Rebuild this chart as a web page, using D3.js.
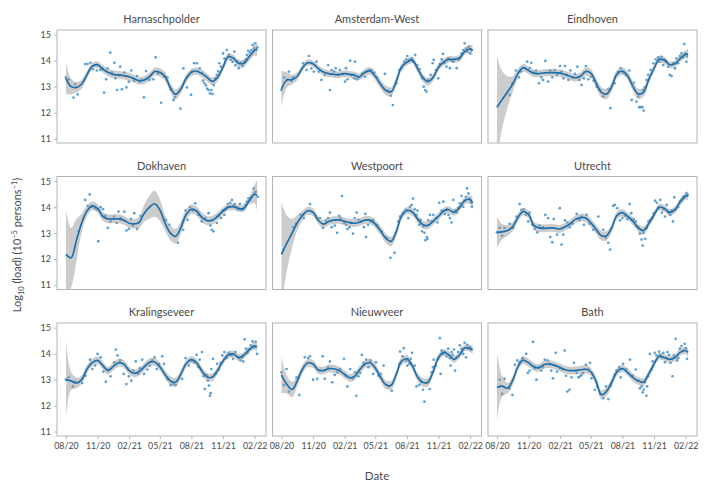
<!DOCTYPE html>
<html><head><meta charset="utf-8">
<script src="https://cdn.jsdelivr.net/npm/d3@7"></script>
<style>body{margin:0;background:#fff}svg{font-family:Lato,"Open Sans",sans-serif}</style>
</head><body>
<svg id="chart" width="725" height="493"></svg>
<script>
const sites = ["Harnaschpolder","Amsterdam-West","Eindhoven","Dokhaven","Westpoort","Utrecht","Kralingseveer","Nieuwveer","Bath"];
const knotDates = ["2020-08-01","2020-08-16","2020-09-01","2020-09-16","2020-10-01","2020-10-16","2020-11-01","2020-11-16","2020-12-01","2020-12-16","2021-01-01","2021-01-16","2021-02-01","2021-02-16","2021-03-01","2021-03-16","2021-04-01","2021-04-16","2021-05-01","2021-05-16","2021-06-01","2021-06-16","2021-07-01","2021-07-16","2021-08-01","2021-08-16","2021-09-01","2021-09-16","2021-10-01","2021-10-16","2021-11-01","2021-11-16","2021-12-01","2021-12-16","2022-01-01","2022-01-16","2022-02-01","2022-02-08"];
const xTickDates = ["2020-08-01","2020-11-01","2021-02-01","2021-05-01","2021-08-01","2021-11-01","2022-02-01"];
const yTicks = [11,12,13,14,15];

// smoothed fit (log10 load) and half-width of the confidence band
const smoothHarnaschpolder = [13.32,13.0,12.97,13.1,13.45,13.78,13.84,13.68,13.55,13.47,13.45,13.42,13.38,13.3,13.23,13.25,13.38,13.58,13.55,13.4,12.95,12.7,12.9,13.3,13.55,13.6,13.5,13.35,13.2,13.35,13.75,14.15,14.1,13.9,13.9,14.15,14.4,14.45];
const bandHarnaschpolder = [0.6,0.3,0.2,0.17,0.15,0.13,0.13,0.14,0.15,0.15,0.15,0.15,0.15,0.15,0.15,0.15,0.15,0.15,0.16,0.17,0.18,0.18,0.17,0.15,0.14,0.14,0.15,0.15,0.15,0.15,0.14,0.13,0.13,0.14,0.14,0.15,0.2,0.3];
const smoothAmsterdamWest = [12.9,13.25,13.27,13.4,13.72,13.92,13.88,13.7,13.56,13.5,13.47,13.46,13.5,13.47,13.44,13.38,13.55,13.6,13.4,13.1,12.85,12.8,13.2,13.75,13.94,14.03,13.7,13.35,13.19,13.35,13.75,13.95,14.05,14.05,14.1,14.35,14.45,14.4];
const bandAmsterdamWest = [0.7,0.3,0.18,0.15,0.13,0.12,0.12,0.13,0.13,0.13,0.13,0.13,0.13,0.13,0.13,0.13,0.14,0.15,0.16,0.17,0.18,0.17,0.16,0.14,0.13,0.13,0.14,0.15,0.15,0.14,0.13,0.12,0.12,0.12,0.12,0.13,0.15,0.2];
const smoothEindhoven = [12.2,12.5,12.8,13.1,13.5,13.73,13.62,13.52,13.5,13.53,13.54,13.54,13.52,13.46,13.4,13.34,13.4,13.58,13.52,13.15,12.78,12.72,13.0,13.48,13.6,13.42,13.0,12.72,12.78,13.25,13.7,14.05,14.02,13.85,13.88,14.08,14.25,14.25];
const bandEindhoven = [2.0,1.1,0.6,0.3,0.18,0.15,0.14,0.14,0.14,0.14,0.14,0.14,0.14,0.14,0.14,0.14,0.15,0.15,0.16,0.18,0.2,0.2,0.18,0.15,0.15,0.16,0.18,0.2,0.18,0.15,0.14,0.13,0.13,0.13,0.13,0.13,0.15,0.2];
const smoothDokhaven = [12.18,12.05,12.75,13.4,13.85,14.05,13.95,13.65,13.55,13.55,13.55,13.5,13.38,13.36,13.4,13.75,14.0,14.13,13.9,13.4,13.0,12.88,13.2,13.7,13.92,13.85,13.6,13.48,13.5,13.65,13.85,14.0,14.02,13.95,13.95,14.25,14.5,14.45];
const bandDokhaven = [1.7,1.15,0.8,0.35,0.2,0.17,0.17,0.17,0.17,0.17,0.17,0.17,0.17,0.18,0.22,0.32,0.45,0.5,0.42,0.3,0.28,0.28,0.25,0.2,0.18,0.18,0.18,0.17,0.17,0.15,0.14,0.13,0.13,0.13,0.13,0.15,0.35,0.6];
const smoothWestpoort = [12.18,12.6,13.0,13.4,13.68,13.86,13.8,13.5,13.35,13.45,13.5,13.51,13.45,13.4,13.38,13.42,13.5,13.5,13.35,13.1,12.8,12.68,13.05,13.65,13.87,13.82,13.55,13.33,13.3,13.45,13.65,13.85,13.9,13.8,13.98,14.25,14.3,14.15];
const bandWestpoort = [2.0,1.1,0.55,0.3,0.18,0.15,0.15,0.15,0.15,0.15,0.15,0.15,0.15,0.15,0.15,0.15,0.15,0.15,0.16,0.17,0.18,0.18,0.17,0.15,0.14,0.14,0.15,0.15,0.15,0.14,0.14,0.13,0.13,0.13,0.13,0.14,0.16,0.22];
const smoothUtrecht = [13.03,13.05,13.1,13.25,13.6,13.83,13.72,13.3,13.2,13.18,13.2,13.19,13.16,13.25,13.35,13.52,13.6,13.58,13.4,13.15,12.9,12.9,13.2,13.68,13.79,13.65,13.45,13.2,13.1,13.35,13.7,14.0,13.95,13.8,13.9,14.2,14.42,14.45];
const bandUtrecht = [0.6,0.3,0.2,0.17,0.15,0.14,0.14,0.15,0.15,0.15,0.15,0.15,0.15,0.15,0.15,0.15,0.15,0.15,0.16,0.17,0.18,0.18,0.16,0.15,0.14,0.14,0.15,0.15,0.15,0.14,0.13,0.13,0.13,0.13,0.13,0.13,0.14,0.17];
const smoothKralingseveer = [13.0,12.95,12.87,13.0,13.4,13.65,13.74,13.55,13.35,13.5,13.65,13.6,13.35,13.24,13.3,13.48,13.67,13.68,13.5,13.2,12.95,12.9,13.2,13.6,13.77,13.65,13.32,13.1,13.1,13.35,13.72,13.95,13.99,13.85,13.95,14.15,14.3,14.25];
const bandKralingseveer = [1.5,0.35,0.2,0.17,0.15,0.15,0.15,0.15,0.15,0.15,0.15,0.15,0.15,0.15,0.15,0.15,0.15,0.15,0.15,0.16,0.17,0.17,0.16,0.15,0.14,0.14,0.15,0.15,0.15,0.14,0.13,0.13,0.13,0.13,0.13,0.13,0.15,0.2];
const smoothNieuwveer = [13.18,12.83,12.62,12.95,13.4,13.64,13.6,13.37,13.35,13.42,13.42,13.35,13.2,13.07,13.12,13.37,13.6,13.65,13.45,13.1,12.8,12.78,13.2,13.7,13.8,13.55,13.1,12.9,12.9,13.3,13.85,14.05,13.95,13.78,13.95,14.22,14.2,14.15];
const bandNieuwveer = [0.7,0.35,0.3,0.2,0.16,0.15,0.15,0.15,0.15,0.15,0.15,0.15,0.15,0.15,0.15,0.15,0.15,0.15,0.15,0.16,0.17,0.17,0.16,0.15,0.15,0.15,0.16,0.16,0.16,0.15,0.14,0.13,0.13,0.13,0.13,0.13,0.14,0.16];
const smoothBath = [12.7,12.75,12.67,12.97,13.5,13.75,13.65,13.5,13.45,13.58,13.6,13.55,13.47,13.38,13.35,13.35,13.38,13.4,13.3,12.95,12.42,12.55,12.9,13.3,13.42,13.28,13.08,12.95,12.9,13.2,13.6,13.9,13.85,13.78,13.85,14.05,14.12,14.05];
const bandBath = [1.3,0.4,0.2,0.17,0.15,0.15,0.15,0.15,0.15,0.15,0.15,0.15,0.15,0.15,0.15,0.15,0.15,0.15,0.15,0.16,0.17,0.17,0.16,0.15,0.14,0.14,0.15,0.15,0.15,0.14,0.13,0.13,0.13,0.13,0.13,0.13,0.14,0.17];

// observed samples [date, log10 load]
const pointsHarnaschpolder = [["2020-08-01",13.36],["2020-08-09",13.28],["2020-08-23",12.58],["2020-08-28",13.10],["2020-09-04",12.70],["2020-09-26",13.87],["2020-10-03",13.87],["2020-10-11",13.92],["2020-10-18",13.67],["2020-10-30",13.62],["2020-11-09",13.64],["2020-11-15",13.69],["2020-11-20",12.77],["2020-11-26",13.28],["2020-11-30",13.70],["2020-12-08",14.31],["2020-12-13",13.54],["2020-12-20",13.92],["2020-12-23",13.32],["2020-12-28",12.87],["2021-01-03",13.44],["2021-01-06",13.77],["2021-01-11",12.90],["2021-01-18",13.54],["2021-01-24",12.97],["2021-01-31",13.19],["2021-02-07",13.62],["2021-02-15",13.23],["2021-02-24",13.41],["2021-03-04",13.19],["2021-03-09",13.26],["2021-03-16",12.59],["2021-03-22",13.60],["2021-04-01",13.26],["2021-04-12",13.28],["2021-04-19",14.13],["2021-04-26",13.49],["2021-05-05",12.38],["2021-05-13",13.38],["2021-05-23",13.36],["2021-06-02",12.90],["2021-06-10",12.49],["2021-06-14",12.59],["2021-06-30",12.15],["2021-07-09",13.70],["2021-07-19",12.97],["2021-07-31",12.68],["2021-08-03",13.58],["2021-08-09",13.90],["2021-08-17",13.90],["2021-08-25",13.70],["2021-09-01",13.51],["2021-09-04",13.23],["2021-09-08",13.13],["2021-09-12",13.05],["2021-09-16",12.92],["2021-09-20",12.87],["2021-09-24",12.74],["2021-09-28",12.87],["2021-10-01",12.72],["2021-10-05",13.06],["2021-10-09",13.31],["2021-10-14",13.45],["2021-10-18",13.59],["2021-10-21",13.90],["2021-10-26",13.77],["2021-11-01",14.28],["2021-11-05",14.08],["2021-11-12",14.41],["2021-11-18",14.22],["2021-11-24",14.03],["2021-11-29",13.95],["2021-12-04",14.35],["2021-12-07",13.82],["2021-12-12",13.97],["2021-12-17",13.71],["2021-12-22",13.92],["2021-12-28",13.79],["2022-01-01",13.95],["2022-01-06",14.05],["2022-01-10",14.22],["2022-01-13",14.38],["2022-01-18",14.31],["2022-01-22",14.41],["2022-01-26",14.60],["2022-01-30",14.47],["2022-02-02",14.67],["2022-02-06",14.41],["2022-02-09",14.51]];
const pointsAmsterdamWest = [["2020-08-01",12.87],["2020-08-09",13.36],["2020-08-17",13.26],["2020-08-23",13.58],["2020-08-30",13.23],["2020-09-04",13.36],["2020-10-03",13.90],["2020-10-13",13.64],["2020-10-20",14.18],["2020-10-27",13.70],["2020-11-03",13.58],["2020-11-11",13.96],["2020-11-18",13.58],["2020-11-25",13.26],["2020-12-05",13.45],["2020-12-15",13.83],["2020-12-20",12.87],["2020-12-25",13.64],["2021-01-01",13.58],["2021-01-06",13.71],["2021-01-13",13.45],["2021-01-18",13.64],["2021-01-26",13.49],["2021-02-02",13.19],["2021-02-05",13.71],["2021-02-09",13.28],["2021-02-17",14.00],["2021-02-21",13.45],["2021-02-28",13.32],["2021-03-03",13.96],["2021-03-08",13.28],["2021-03-14",13.36],["2021-03-23",13.49],["2021-04-01",13.38],["2021-04-06",13.58],["2021-04-14",13.64],["2021-04-21",13.64],["2021-04-28",13.54],["2021-05-05",13.36],["2021-05-29",13.49],["2021-06-08",12.85],["2021-06-15",12.65],["2021-06-21",12.29],["2021-07-02",13.13],["2021-07-10",13.64],["2021-07-17",13.70],["2021-07-24",13.96],["2021-07-30",14.05],["2021-08-02",14.18],["2021-08-08",14.03],["2021-08-15",14.09],["2021-08-19",13.96],["2021-08-25",14.22],["2021-08-31",13.83],["2021-09-07",13.67],["2021-09-15",13.32],["2021-09-19",13.00],["2021-09-23",12.87],["2021-09-27",12.81],["2021-10-02",13.26],["2021-10-09",13.45],["2021-10-15",13.90],["2021-10-18",14.03],["2021-10-24",13.64],["2021-10-31",13.32],["2021-11-05",13.87],["2021-11-10",14.05],["2021-11-14",14.26],["2021-11-19",13.90],["2021-11-24",13.77],["2021-11-29",14.09],["2021-12-04",13.71],["2021-12-09",14.00],["2021-12-14",13.96],["2021-12-19",14.05],["2021-12-24",13.71],["2021-12-29",14.03],["2022-01-02",14.09],["2022-01-07",14.28],["2022-01-12",14.41],["2022-01-16",14.67],["2022-01-20",14.47],["2022-01-24",14.35],["2022-01-28",14.54],["2022-02-01",14.28],["2022-02-05",14.41]];
const pointsEindhoven = [["2020-09-07",12.68],["2020-09-15",13.13],["2020-09-25",13.62],["2020-10-04",13.36],["2020-10-11",13.58],["2020-10-21",13.71],["2020-10-28",13.96],["2020-11-04",13.71],["2020-11-09",13.92],["2020-11-16",13.54],["2020-11-23",13.62],["2020-12-01",13.13],["2020-12-08",13.36],["2020-12-13",13.26],["2020-12-20",13.99],["2020-12-28",13.19],["2021-01-03",13.62],["2021-01-09",13.36],["2021-01-16",13.64],["2021-01-23",13.45],["2021-01-31",13.79],["2021-02-05",13.58],["2021-02-10",13.32],["2021-02-15",13.79],["2021-02-20",13.45],["2021-02-25",13.26],["2021-03-03",13.62],["2021-03-09",13.36],["2021-03-16",13.49],["2021-03-23",13.77],["2021-03-29",13.26],["2021-04-04",13.06],["2021-04-11",13.32],["2021-04-17",13.79],["2021-04-24",13.28],["2021-05-01",13.38],["2021-05-09",13.23],["2021-05-18",13.00],["2021-05-28",12.87],["2021-06-06",12.62],["2021-06-21",12.90],["2021-06-27",12.17],["2021-07-10",13.13],["2021-07-20",13.58],["2021-07-27",13.71],["2021-08-03",13.54],["2021-08-11",13.45],["2021-08-21",13.62],["2021-08-28",12.49],["2021-09-03",13.15],["2021-09-11",12.42],["2021-09-16",12.62],["2021-09-19",12.21],["2021-09-23",12.21],["2021-09-28",12.21],["2021-09-29",12.87],["2021-10-02",12.08],["2021-10-05",12.97],["2021-10-10",13.26],["2021-10-15",13.45],["2021-10-22",13.64],["2021-10-30",13.90],["2021-11-06",14.05],["2021-11-13",14.13],["2021-11-18",13.96],["2021-11-23",14.15],["2021-11-28",13.83],["2021-12-02",14.03],["2021-12-07",13.96],["2021-12-12",13.77],["2021-12-17",13.45],["2021-12-22",13.41],["2021-12-27",13.90],["2022-01-01",13.70],["2022-01-05",14.09],["2022-01-10",13.90],["2022-01-15",14.18],["2022-01-20",14.28],["2022-01-25",14.13],["2022-01-28",14.64],["2022-01-31",14.26],["2022-02-03",13.96],["2022-02-05",14.18]];
const pointsDokhaven = [["2020-09-07",13.07],["2020-09-26",14.28],["2020-10-03",14.05],["2020-10-09",14.49],["2020-10-16",14.02],["2020-10-24",13.96],["2020-10-31",13.92],["2020-11-03",12.69],["2020-11-10",14.00],["2020-11-17",13.92],["2020-11-24",13.67],["2020-12-01",13.20],["2020-12-09",13.45],["2020-12-19",13.64],["2020-12-27",13.39],["2021-01-01",13.83],["2021-01-08",13.58],["2021-01-18",13.83],["2021-01-24",13.10],["2021-01-31",13.16],["2021-02-06",13.54],["2021-02-12",13.29],["2021-02-16",13.77],["2021-02-24",13.16],["2021-03-06",13.67],["2021-05-19",13.51],["2021-05-29",13.32],["2021-06-23",12.63],["2021-07-08",13.13],["2021-07-15",13.87],["2021-07-21",13.51],["2021-07-28",14.00],["2021-08-04",13.87],["2021-08-12",14.15],["2021-08-21",13.70],["2021-08-31",13.45],["2021-09-10",13.58],["2021-09-20",13.77],["2021-09-25",13.29],["2021-09-29",13.13],["2021-10-04",13.07],["2021-10-14",13.39],["2021-10-20",13.67],["2021-10-26",13.58],["2021-10-30",13.87],["2021-11-05",13.70],["2021-11-09",13.92],["2021-11-15",14.12],["2021-11-22",14.17],["2021-11-27",14.28],["2021-12-02",14.05],["2021-12-05",14.12],["2021-12-10",14.00],["2021-12-15",13.92],["2021-12-20",14.12],["2021-12-25",13.90],["2021-12-30",13.96],["2022-01-04",14.09],["2022-01-09",14.21],["2022-01-14",14.34],["2022-01-19",14.28],["2022-01-24",14.40],["2022-01-29",14.72],["2022-02-01",14.56],["2022-02-05",14.59],["2022-02-10",14.40]];
const pointsWestpoort = [["2020-09-04",13.23],["2020-09-12",13.36],["2020-09-26",13.70],["2020-10-05",13.58],["2020-10-23",14.12],["2020-11-21",13.58],["2020-11-30",13.20],["2020-12-08",13.49],["2020-12-15",13.58],["2020-12-20",13.79],["2020-12-25",13.23],["2021-01-03",13.29],["2021-01-10",13.01],["2021-01-16",13.67],["2021-01-20",13.58],["2021-01-24",14.43],["2021-01-30",13.39],["2021-02-05",13.32],["2021-02-09",13.16],["2021-02-15",13.23],["2021-02-19",13.41],["2021-02-25",12.98],["2021-03-02",13.58],["2021-03-08",13.79],["2021-03-13",13.51],["2021-03-22",13.45],["2021-03-29",13.23],["2021-04-02",13.74],["2021-04-04",12.85],["2021-04-10",13.32],["2021-04-17",13.45],["2021-04-25",13.51],["2021-05-07",13.32],["2021-05-19",13.07],["2021-06-03",12.82],["2021-06-14",12.05],["2021-06-26",12.24],["2021-07-07",13.45],["2021-07-12",13.64],["2021-07-21",13.77],["2021-07-29",13.90],["2021-08-05",13.58],["2021-08-10",14.02],["2021-08-15",14.09],["2021-08-19",14.33],["2021-08-24",13.92],["2021-08-29",13.70],["2021-09-01",13.87],["2021-09-06",13.32],["2021-09-10",13.51],["2021-09-14",13.07],["2021-09-18",13.26],["2021-09-21",13.01],["2021-09-24",12.73],["2021-09-28",12.85],["2021-09-30",12.78],["2021-10-02",13.49],["2021-10-07",13.70],["2021-10-12",13.45],["2021-10-17",13.70],["2021-10-25",13.58],["2021-10-29",13.41],["2021-11-03",14.17],["2021-11-10",13.87],["2021-11-15",14.21],["2021-11-20",13.74],["2021-11-25",13.92],["2021-11-30",13.70],["2021-12-04",13.58],["2021-12-09",13.41],["2021-12-14",14.28],["2021-12-19",13.87],["2021-12-24",13.79],["2021-12-29",13.96],["2022-01-02",14.15],["2022-01-07",14.43],["2022-01-12",14.02],["2022-01-16",14.25],["2022-01-20",14.40],["2022-01-23",14.72],["2022-01-27",14.53],["2022-01-30",14.30],["2022-02-03",14.17],["2022-02-06",14.02]];
const pointsUtrecht = [["2020-08-01",13.03],["2020-08-09",13.20],["2020-08-16",12.90],["2020-08-23",13.20],["2020-09-07",13.36],["2020-09-17",13.20],["2020-09-27",13.64],["2020-10-06",14.12],["2020-10-11",13.90],["2020-10-18",13.92],["2020-10-24",13.70],["2020-10-31",13.45],["2020-11-04",13.79],["2020-11-12",13.32],["2020-11-19",13.16],["2020-11-26",13.03],["2020-12-03",13.29],["2020-12-13",13.23],["2020-12-20",13.70],["2020-12-28",13.58],["2021-01-03",12.85],["2021-01-09",12.65],["2021-01-13",13.54],["2021-01-23",12.94],["2021-01-31",13.96],["2021-02-05",12.56],["2021-02-10",12.94],["2021-02-15",13.49],["2021-02-22",13.41],["2021-03-01",13.23],["2021-03-09",13.36],["2021-03-21",13.74],["2021-03-29",13.51],["2021-04-04",13.64],["2021-04-11",13.32],["2021-04-19",13.70],["2021-04-27",13.36],["2021-05-08",13.13],["2021-05-23",13.64],["2021-06-06",13.13],["2021-06-14",12.82],["2021-06-21",12.63],["2021-06-26",12.37],["2021-07-05",14.05],["2021-07-10",14.09],["2021-07-17",13.96],["2021-07-25",13.49],["2021-08-01",13.58],["2021-08-08",13.67],["2021-08-15",13.54],["2021-08-22",14.12],["2021-08-27",13.77],["2021-09-03",13.54],["2021-09-09",13.45],["2021-09-16",13.23],["2021-09-21",12.98],["2021-09-26",12.75],["2021-09-29",12.52],["2021-10-01",13.01],["2021-10-06",12.78],["2021-10-11",13.20],["2021-10-16",13.45],["2021-10-21",13.51],["2021-10-26",13.58],["2021-10-31",13.77],["2021-11-04",14.25],["2021-11-09",14.17],["2021-11-14",13.96],["2021-11-19",14.28],["2021-11-24",13.79],["2021-11-29",13.92],["2021-12-03",13.64],["2021-12-08",14.09],["2021-12-13",13.79],["2021-12-18",13.70],["2021-12-23",13.87],["2021-12-26",13.45],["2021-12-30",14.38],["2022-01-03",13.92],["2022-01-10",14.00],["2022-01-15",14.21],["2022-01-20",14.28],["2022-01-25",14.40],["2022-01-30",14.43],["2022-02-03",14.53],["2022-02-07",14.47]];
const pointsKralingseveer = [["2020-08-01",13.00],["2020-08-09",13.09],["2020-08-21",12.74],["2020-08-28",12.92],["2020-09-17",12.87],["2020-09-27",13.15],["2020-10-10",13.77],["2020-10-17",13.41],["2020-10-25",13.54],["2020-11-01",13.99],["2020-11-10",13.86],["2020-11-18",13.31],["2020-11-25",12.92],["2020-12-01",13.39],["2020-12-09",13.13],["2020-12-19",13.67],["2020-12-24",14.16],["2020-12-29",13.93],["2021-01-06",13.74],["2021-01-16",13.22],["2021-01-24",12.83],["2021-01-31",13.13],["2021-02-07",12.96],["2021-02-13",13.35],["2021-02-20",13.70],["2021-02-27",13.22],["2021-03-04",13.44],["2021-03-11",13.77],["2021-03-16",13.22],["2021-03-26",13.39],["2021-04-02",13.54],["2021-04-09",13.74],["2021-04-16",13.86],["2021-04-22",13.41],["2021-04-29",13.61],["2021-05-08",13.90],["2021-05-13",13.61],["2021-05-23",13.03],["2021-06-01",12.79],["2021-06-09",12.83],["2021-06-16",12.79],["2021-07-05",13.03],["2021-07-15",13.83],["2021-07-25",13.54],["2021-08-01",13.74],["2021-08-09",13.67],["2021-08-16",13.95],["2021-08-21",13.48],["2021-08-25",13.77],["2021-09-01",14.06],["2021-09-05",13.13],["2021-09-09",12.64],["2021-09-14",13.18],["2021-09-18",12.96],["2021-09-21",12.77],["2021-09-24",12.38],["2021-09-26",12.48],["2021-09-28",13.41],["2021-10-03",13.80],["2021-10-10",13.22],["2021-10-15",13.61],["2021-10-20",13.39],["2021-10-25",13.65],["2021-10-30",13.93],["2021-11-05",14.06],["2021-11-11",13.83],["2021-11-18",14.03],["2021-11-25",13.93],["2021-11-30",13.80],["2021-12-07",14.06],["2021-12-12",13.90],["2021-12-17",13.83],["2021-12-22",13.74],["2021-12-27",13.86],["2021-12-30",13.70],["2022-01-03",14.55],["2022-01-07",14.19],["2022-01-11",14.03],["2022-01-16",14.16],["2022-01-21",14.32],["2022-01-26",14.47],["2022-01-31",14.25],["2022-02-04",14.45],["2022-02-08",13.99]];
const pointsNieuwveer = [["2020-08-01",13.28],["2020-08-08",12.79],["2020-08-16",13.41],["2020-08-23",12.54],["2020-09-14",13.09],["2020-09-22",12.41],["2020-10-08",13.86],["2020-10-18",13.83],["2020-10-23",13.90],["2020-11-01",13.00],["2020-11-13",13.03],["2020-11-21",13.35],["2020-11-29",13.90],["2020-12-05",13.03],["2020-12-15",13.48],["2020-12-20",13.70],["2020-12-27",12.90],["2021-01-03",13.18],["2021-01-10",13.28],["2021-01-18",13.41],["2021-01-30",13.80],["2021-02-05",13.13],["2021-02-09",12.74],["2021-02-17",13.41],["2021-02-25",13.05],["2021-03-03",13.28],["2021-03-07",12.38],["2021-03-13",13.13],["2021-03-18",13.26],["2021-03-23",13.95],["2021-03-28",13.65],["2021-04-04",13.77],["2021-04-11",13.48],["2021-04-17",13.74],["2021-04-25",13.22],["2021-05-03",13.67],["2021-05-10",13.15],["2021-05-17",13.22],["2021-05-25",13.54],["2021-06-09",12.74],["2021-06-18",12.57],["2021-07-10",13.61],["2021-07-12",14.08],["2021-07-19",13.90],["2021-07-23",14.21],["2021-07-29",13.74],["2021-08-02",13.54],["2021-08-08",13.61],["2021-08-12",13.80],["2021-08-16",14.03],["2021-08-24",13.54],["2021-08-29",12.74],["2021-09-06",12.79],["2021-09-12",12.90],["2021-09-17",12.61],["2021-09-21",12.15],["2021-09-29",12.87],["2021-10-06",12.64],["2021-10-12",13.28],["2021-10-16",13.48],["2021-10-18",13.77],["2021-10-24",13.54],["2021-10-31",13.80],["2021-11-05",14.60],["2021-11-07",13.22],["2021-11-10",14.12],["2021-11-14",13.99],["2021-11-19",14.06],["2021-11-24",13.90],["2021-11-29",14.19],["2021-12-04",13.83],["2021-12-06",13.54],["2021-12-09",14.06],["2021-12-12",13.95],["2021-12-16",14.16],["2021-12-19",13.35],["2021-12-23",13.86],["2021-12-28",14.06],["2022-01-02",14.32],["2022-01-07",14.19],["2022-01-12",13.99],["2022-01-16",14.42],["2022-01-20",13.86],["2022-01-24",14.34],["2022-01-27",14.19],["2022-01-31",14.25],["2022-02-04",14.16]];
const pointsBath = [["2020-08-09",13.00],["2020-08-16",12.45],["2020-08-23",13.03],["2020-09-07",12.66],["2020-09-15",12.41],["2020-09-22",13.57],["2020-09-29",13.74],["2020-10-06",13.67],["2020-10-14",13.83],["2020-10-25",13.99],["2020-10-30",13.26],["2020-11-04",13.35],["2020-11-14",14.45],["2020-11-19",13.44],["2020-11-24",13.00],["2020-12-01",13.48],["2020-12-08",13.35],["2020-12-13",13.48],["2020-12-18",13.77],["2020-12-26",13.74],["2021-01-01",13.61],["2021-01-06",13.35],["2021-01-11",13.05],["2021-01-19",14.03],["2021-01-23",13.31],["2021-01-31",13.44],["2021-02-08",13.39],["2021-02-14",14.12],["2021-02-18",13.15],["2021-02-22",12.54],["2021-02-28",12.61],["2021-03-06",13.09],["2021-03-13",13.65],["2021-03-21",13.26],["2021-03-26",13.09],["2021-03-31",13.13],["2021-04-04",13.18],["2021-04-09",13.26],["2021-04-17",13.57],["2021-04-24",13.41],["2021-04-29",13.65],["2021-05-03",13.05],["2021-05-13",12.61],["2021-05-20",12.74],["2021-05-28",12.45],["2021-06-06",12.28],["2021-06-14",12.74],["2021-06-21",12.25],["2021-06-28",12.77],["2021-07-10",13.18],["2021-07-15",13.35],["2021-07-23",13.48],["2021-07-27",13.09],["2021-08-03",13.61],["2021-08-13",13.41],["2021-08-23",13.77],["2021-08-31",13.15],["2021-09-09",13.39],["2021-09-16",12.96],["2021-09-21",12.66],["2021-09-26",12.74],["2021-09-29",12.51],["2021-10-02",12.61],["2021-10-05",12.90],["2021-10-10",12.38],["2021-10-12",12.74],["2021-10-15",13.13],["2021-10-20",13.99],["2021-10-25",13.39],["2021-10-28",13.70],["2021-11-03",14.03],["2021-11-08",13.93],["2021-11-16",14.08],["2021-11-20",13.95],["2021-11-24",13.86],["2021-11-28",14.03],["2021-12-03",13.67],["2021-12-07",13.83],["2021-12-10",14.06],["2021-12-15",13.95],["2021-12-19",13.65],["2021-12-25",13.13],["2021-12-29",13.93],["2022-01-03",14.57],["2022-01-07",13.74],["2022-01-11",13.83],["2022-01-15",14.19],["2022-01-20",14.29],["2022-01-25",14.12],["2022-01-29",14.38],["2022-02-01",14.21],["2022-02-05",13.80]];

const smoothBySite = [smoothHarnaschpolder,smoothAmsterdamWest,smoothEindhoven,smoothDokhaven,smoothWestpoort,smoothUtrecht,smoothKralingseveer,smoothNieuwveer,smoothBath];
const bandBySite = [bandHarnaschpolder,bandAmsterdamWest,bandEindhoven,bandDokhaven,bandWestpoort,bandUtrecht,bandKralingseveer,bandNieuwveer,bandBath];
const pointsBySite = [pointsHarnaschpolder,pointsAmsterdamWest,pointsEindhoven,pointsDokhaven,pointsWestpoort,pointsUtrecht,pointsKralingseveer,pointsNieuwveer,pointsBath];

const parseDate = d3.timeParse("%Y-%m-%d");
const marginL = 57, marginR = 697, marginT = 30, panelGap = 6.5, panelH = 113, rowStep = 146.5;
const panelW = (marginR - marginL - 2 * panelGap) / 3;
const textCol = "#4a4a4a", frameCol = "#b4b4b4";

const xScale = d3.scaleTime().domain([parseDate("2020-07-06"), parseDate("2022-03-06")]).range([0, panelW]);
const yScale = d3.scaleLinear().domain([10.83, 15.18]).range([panelH, 0]);

const svg = d3.select("#chart");

sites.forEach((name, i) => {
  const col = i % 3, row = Math.floor(i / 3);
  const g = svg.append("g").attr("transform", `translate(${marginL + col * (panelW + panelGap)},${marginT + row * rowStep})`);
  const fit = knotDates.map((d, k) => ({date: parseDate(d), v: smoothBySite[i][k], hw: bandBySite[i][k]}));
  const pts = pointsBySite[i].map(p => ({date: parseDate(p[0]), v: p[1]}));

  g.append("clipPath").attr("id", "clip" + i).append("rect").attr("width", panelW).attr("height", panelH);
  const inner = g.append("g").attr("clip-path", `url(#clip${i})`);

  inner.selectAll("circle").data(pts).join("circle")
    .attr("cx", d => xScale(d.date)).attr("cy", d => yScale(d.v)).attr("r", 1.35)
    .attr("fill", "#3d8fce").attr("fill-opacity", 0.85);

  inner.append("path").datum(fit)
    .attr("d", d3.area().x(d => xScale(d.date)).y0(d => yScale(d.v - d.hw)).y1(d => yScale(d.v + d.hw)).curve(d3.curveCatmullRom))
    .attr("fill", "#999").attr("fill-opacity", 0.5);

  inner.append("path").datum(fit)
    .attr("d", d3.line().x(d => xScale(d.date)).y(d => yScale(d.v)).curve(d3.curveCatmullRom))
    .attr("fill", "none").attr("stroke", "#1b6fad").attr("stroke-width", 1.7);

  g.append("rect").attr("width", panelW).attr("height", panelH).attr("fill", "none").attr("stroke", frameCol).attr("stroke-width", 1);

  g.append("text").attr("x", panelW / 2).attr("y", -7).attr("text-anchor", "middle")
    .attr("font-size", 11).attr("fill", textCol).text(name);

  if (col === 0) {
    const ay = g.append("g").call(d3.axisLeft(yScale).tickValues(yTicks).tickFormat(d3.format("d")).tickSize(3).tickPadding(3));
    ay.select(".domain").remove();
    ay.selectAll("line").attr("stroke", frameCol);
    ay.selectAll("text").attr("font-size", 9).attr("fill", textCol).attr("font-family", "Lato, sans-serif");
  }
  if (row === 2) {
    const ax = g.append("g").attr("transform", `translate(0,${panelH})`)
      .call(d3.axisBottom(xScale).tickValues(xTickDates.map(parseDate)).tickFormat(d3.timeFormat("%m/%y")).tickSize(3).tickPadding(4));
    ax.select(".domain").remove();
    ax.selectAll("line").attr("stroke", frameCol);
    ax.selectAll("text").attr("font-size", 8.8).attr("fill", textCol).attr("font-family", "Lato, sans-serif");
  }
});

svg.append("text").attr("x", marginL + (marginR - marginL) / 2).attr("y", 480).attr("text-anchor", "middle")
  .attr("font-size", 11.5).attr("fill", textCol).text("Date");

const yl = svg.append("text").attr("transform", "translate(21,245) rotate(-90)").attr("text-anchor", "middle")
  .attr("font-size", 11).attr("fill", textCol);
yl.append("tspan").text("Log");
yl.append("tspan").attr("font-size", 7.5).attr("dy", 3).text("10");
yl.append("tspan").attr("dy", -3).text(" (load) (10");
yl.append("tspan").attr("font-size", 7.5).attr("dy", -4).text("−5");
yl.append("tspan").attr("dy", 4).text(" persons");
yl.append("tspan").attr("font-size", 7.5).attr("dy", -4).text("−1");
yl.append("tspan").attr("dy", 4).text(")");
</script>
</body></html>
